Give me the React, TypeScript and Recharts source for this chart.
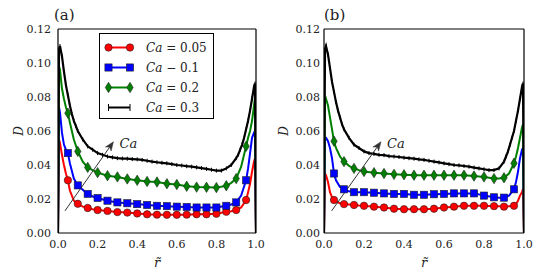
import React from 'react';
import { LineChart, Line, XAxis, YAxis, ReferenceLine } from 'recharts';

const FONT = 'DejaVu Serif';

const xTicks = [0, 0.2, 0.4, 0.6, 0.8, 1.0];
const yTicks = [0, 0.02, 0.04, 0.06, 0.08, 0.1, 0.12];
const caValues = ['0.05', '0.1', '0.2', '0.3'];
const caOps = ['=', '\u2212', '=', '='];
const colors = ['#ff0000', '#0000ff', '#008000', '#000000'];
const markerKinds = ['circle', 'square', 'diamond', 'vbar'];

// common r grid for the marked series
const rGrid = [0, 0.005, 0.01, 0.02, 0.03, 0.04, 0.05, 0.06, 0.08, 0.1, 0.125, 0.15, 0.175, 0.2, 0.25, 0.3, 0.35, 0.4, 0.45, 0.5, 0.55, 0.6, 0.65, 0.7, 0.75, 0.8, 0.85, 0.875, 0.9, 0.925, 0.95, 0.96, 0.97, 0.98, 0.99, 0.995, 1.0];

// panel (a)
const redA = [0, 0.055, 0.053, 0.046, 0.040, 0.035, 0.031, 0.025, 0.019, 0.0172, 0.0155, 0.0147, 0.014, 0.0135, 0.013, 0.0123, 0.012, 0.0115, 0.011, 0.0108, 0.0107, 0.0107, 0.0108, 0.011, 0.011, 0.0113, 0.0125, 0.0128, 0.0135, 0.015, 0.0194, 0.024, 0.029, 0.036, 0.042, 0.044, 0];
const blueA = [0, 0.074, 0.071, 0.059, 0.052, 0.049, 0.047, 0.041, 0.032, 0.028, 0.0255, 0.023, 0.0215, 0.0206, 0.019, 0.018, 0.0175, 0.017, 0.0165, 0.016, 0.0158, 0.0155, 0.0153, 0.015, 0.015, 0.015, 0.016, 0.0168, 0.018, 0.022, 0.031, 0.038, 0.047, 0.056, 0.059, 0.06, 0];
const greenA = [0, 0.098, 0.096, 0.085, 0.079, 0.074, 0.0705, 0.065, 0.055, 0.048, 0.042, 0.0386, 0.037, 0.0355, 0.0337, 0.033, 0.0318, 0.031, 0.0303, 0.030, 0.029, 0.0285, 0.0275, 0.027, 0.0269, 0.0267, 0.0278, 0.0295, 0.032, 0.039, 0.051, 0.056, 0.060, 0.066, 0.075, 0.080, 0];

// panel (b)
const redB = [0, 0.035, 0.034, 0.030, 0.024, 0.021, 0.0194, 0.0185, 0.0175, 0.017, 0.0168, 0.0165, 0.0162, 0.016, 0.0155, 0.015, 0.0143, 0.014, 0.014, 0.014, 0.0143, 0.015, 0.0155, 0.016, 0.016, 0.016, 0.0158, 0.0157, 0.0155, 0.0158, 0.016, 0.017, 0.019, 0.022, 0.024, 0.026, 0];
const blueB = [0, 0.056, 0.056, 0.054, 0.050, 0.044, 0.035, 0.031, 0.027, 0.0257, 0.0245, 0.024, 0.024, 0.024, 0.0237, 0.0233, 0.023, 0.023, 0.0225, 0.0225, 0.0228, 0.023, 0.0233, 0.0233, 0.0233, 0.022, 0.021, 0.0208, 0.0208, 0.022, 0.0257, 0.030, 0.036, 0.044, 0.049, 0.050, 0];
const greenB = [0, 0.077, 0.079, 0.075, 0.068, 0.061, 0.054, 0.050, 0.045, 0.042, 0.0395, 0.038, 0.037, 0.0362, 0.0355, 0.035, 0.0345, 0.0343, 0.034, 0.034, 0.034, 0.034, 0.034, 0.034, 0.0335, 0.033, 0.032, 0.032, 0.0325, 0.035, 0.041, 0.045, 0.050, 0.056, 0.062, 0.064, 0];

// denser r grid for the Ca = 0.3 curves
const rBlack = [0, 0.005, 0.01, 0.02, 0.03, 0.04, 0.05, 0.06, 0.07, 0.08, 0.09, 0.1, 0.125, 0.15, 0.175, 0.2, 0.225, 0.25, 0.275, 0.3, 0.325, 0.35, 0.375, 0.4, 0.425, 0.45, 0.475, 0.5, 0.525, 0.55, 0.575, 0.6, 0.625, 0.65, 0.675, 0.7, 0.725, 0.75, 0.775, 0.8, 0.825, 0.85, 0.875, 0.9, 0.91, 0.92, 0.93, 0.94, 0.95, 0.96, 0.97, 0.98, 0.99, 0.995, 1];
const blackA = [0, 0.108, 0.110, 0.104, 0.095, 0.087, 0.081, 0.075, 0.070, 0.066, 0.063, 0.060, 0.055, 0.051, 0.049, 0.047, 0.046, 0.045, 0.0445, 0.044, 0.0438, 0.0437, 0.0435, 0.0433, 0.043, 0.0425, 0.042, 0.0416, 0.0413, 0.041, 0.0405, 0.040, 0.0397, 0.0393, 0.039, 0.0386, 0.0382, 0.0377, 0.0372, 0.0367, 0.0367, 0.038, 0.040, 0.044, 0.046, 0.049, 0.052, 0.056, 0.061, 0.066, 0.072, 0.079, 0.086, 0.088, 0];
const blackB = [0, 0.108, 0.110, 0.105, 0.097, 0.089, 0.083, 0.077, 0.072, 0.068, 0.064, 0.061, 0.056, 0.052, 0.050, 0.048, 0.047, 0.0465, 0.046, 0.0458, 0.0452, 0.045, 0.0447, 0.0443, 0.044, 0.0437, 0.0433, 0.043, 0.0425, 0.042, 0.0415, 0.041, 0.0405, 0.040, 0.0398, 0.0394, 0.039, 0.0385, 0.038, 0.0375, 0.037, 0.037, 0.038, 0.042, 0.045, 0.048, 0.052, 0.056, 0.060, 0.066, 0.072, 0.079, 0.086, 0.088, 0];

// arrow (data coordinates: r, D)
const arrowA = [{ x: 0.035, y: 0.013 }, { x: 0.28, y: 0.0537 }];
const arrowB = [{ x: 0.038, y: 0.013 }, { x: 0.285, y: 0.0537 }];

const toRows = (rs: number[], ds: number[]) => rs.map((r, i) => ({ r, d: ds[i] }));

function MarkerShape({ kind, x, y, color }: { kind: string; x: number; y: number; color: string }) {
  if (kind === 'circle') return <circle cx={x} cy={y} r={3.7} fill={color} stroke="#222" strokeWidth={0.6} />;
  if (kind === 'square') return <rect x={x - 3.6} y={y - 3.6} width={7.2} height={7.2} fill={color} stroke="#222" strokeWidth={0.6} />;
  if (kind === 'diamond')
    return <polygon points={`${x},${y - 5.2} ${x + 3.2},${y} ${x},${y + 5.2} ${x - 3.2},${y}`} fill={color} stroke="#222" strokeWidth={0.6} />;
  return <line x1={x} y1={y - 3.5} x2={x} y2={y + 3.5} stroke={color} strokeWidth={1} />;
}

const makeDot = (kind: string, color: string) => (props: any) => {
  const { cx, cy, payload, index } = props;
  const key = `${kind}-${index}`;
  if (cx == null || cy == null || !payload) return <g key={key} />;
  const r = payload.r;
  let show: boolean;
  if (kind === 'vbar') {
    show = r > 0 && r < 1;
  } else {
    const s = Math.round(r * 20);
    show = Math.abs(r * 20 - s) < 1e-6 && s >= 1 && s <= 19;
  }
  if (!show) return <g key={key} />;
  if (kind === 'vbar') {
    return <line key={key} x1={cx} y1={cy - 2} x2={cx} y2={cy + 2} stroke={color} strokeWidth={1} />;
  }
  return (
    <g key={key}>
      <MarkerShape kind={kind} x={cx} y={cy} color={color} />
    </g>
  );
};

const NoTick = () => <g />;

const ArrowShape = (props: any) => {
  const { x1, y1, x2, y2 } = props;
  if ([x1, y1, x2, y2].some((v) => v == null || isNaN(v))) return <g />;
  const ang = Math.atan2(y2 - y1, x2 - x1);
  const L = 9;
  const W = 3.5;
  const bx = x2 - L * Math.cos(ang);
  const by = y2 - L * Math.sin(ang);
  const px = -Math.sin(ang) * W;
  const py = Math.cos(ang) * W;
  const nx = x2 - 6.5 * Math.cos(ang);
  const ny = y2 - 6.5 * Math.sin(ang);
  return (
    <g>
      <line x1={x1} y1={y1} x2={nx} y2={ny} stroke="#333" strokeWidth={1} />
      <polygon points={`${x2},${y2} ${bx + px},${by + py} ${nx},${ny} ${bx - px},${by - py}`} fill="#333" stroke="#333" strokeWidth={0.5} />
      <text x={x2 + 6} y={y2 + 1.5} fontFamily={FONT} fontStyle="italic" fontSize={13} fill="#222" dominantBaseline="central">
        Ca
      </text>
    </g>
  );
};

interface PanelProps {
  width: number;
  yAxisWidth: number;
  rightMargin: number;
  yTickMargin: number;
  yLabelDx: number;
  series: { rows: { r: number; d: number }[]; color: string; kind: string }[];
  arrow: { x: number; y: number }[];
}

const tickStyle = { fontFamily: FONT, fontSize: 11, fill: '#222' };

function Panel({ width, yAxisWidth, rightMargin, yTickMargin, yLabelDx, series, arrow }: PanelProps) {
  const yLabel = (p: any) => {
    const vb = p.viewBox || {};
    const cx = vb.x + yLabelDx;
    const cy = vb.y + vb.height / 2;
    return (
      <text x={cx} y={cy} transform={`rotate(-90 ${cx} ${cy})`} textAnchor="middle" dominantBaseline="central" fontFamily={FONT} fontStyle="italic" fontSize={12} fill="#222">
        D
      </text>
    );
  };
  const xLabel = (p: any) => {
    const vb = p.viewBox || {};
    const cx = vb.x + vb.width / 2;
    const cy = vb.y + 29;
    return (
      <text x={cx} y={cy} textAnchor="middle" dominantBaseline="central" fontFamily={FONT} fontStyle="italic" fontSize={13} fill="#222">
        {'r\u0303'}
      </text>
    );
  };
  const spine = { stroke: '#000', strokeWidth: 1.2 };
  const tl = { stroke: '#000', strokeWidth: 1 };
  return (
    <LineChart width={width} height={279} margin={{ top: 29, right: rightMargin, bottom: 0, left: 0 }}>
      <XAxis
        xAxisId="main"
        type="number"
        dataKey="r"
        domain={[0, 1]}
        ticks={xTicks}
        allowDataOverflow
        axisLine={false}
        tickLine={false}
        tickSize={0}
        tickMargin={7}
        height={46}
        tick={tickStyle}
        tickFormatter={(v: number) => v.toFixed(1)}
        label={xLabel}
      />
      <XAxis xAxisId="bm" type="number" dataKey="r" domain={[0, 1]} ticks={xTicks} orientation="bottom" mirror tickSize={4} tick={NoTick} axisLine={spine} tickLine={tl} />
      <XAxis xAxisId="tm" type="number" dataKey="r" domain={[0, 1]} ticks={xTicks} orientation="top" mirror tickSize={4} tick={NoTick} axisLine={spine} tickLine={tl} />
      <YAxis
        yAxisId="main"
        type="number"
        domain={[0, 0.12]}
        ticks={yTicks}
        allowDataOverflow
        axisLine={false}
        tickLine={false}
        tickSize={0}
        tickMargin={yTickMargin}
        width={yAxisWidth}
        tick={tickStyle}
        tickFormatter={(v: number) => v.toFixed(2)}
        label={yLabel}
      />
      <YAxis yAxisId="lm" type="number" domain={[0, 0.12]} ticks={yTicks} orientation="left" mirror tickSize={4} tick={NoTick} axisLine={spine} tickLine={tl} />
      <YAxis yAxisId="rm" type="number" domain={[0, 0.12]} ticks={yTicks} orientation="right" mirror tickSize={4} tick={NoTick} axisLine={spine} tickLine={tl} />
      {series.map((s, i) => (
        <Line
          key={i}
          xAxisId="main"
          yAxisId="main"
          data={s.rows}
          dataKey="d"
          type="linear"
          stroke={s.color}
          strokeWidth={s.kind === 'vbar' ? 2.2 : 2}
          dot={makeDot(s.kind, s.color)}
          activeDot={false}
          isAnimationActive={false}
        />
      ))}
      <ReferenceLine xAxisId="main" yAxisId="main" segment={arrow} shape={ArrowShape} ifOverflow="visible" />
    </LineChart>
  );
}

function LegendBox() {
  const rows = caValues.map((v, i) => ({ v, op: caOps[i], color: colors[i], kind: markerKinds[i] }));
  return (
    <div style={{ position: 'absolute', left: 99, top: 33, width: 113, height: 84, border: '1px solid #000', background: '#fff' }}>
      <svg width={113} height={84} style={{ display: 'block' }}>
        {rows.map((r, i) => {
          const y = 13.5 + i * 20;
          return (
            <g key={i}>
              <line x1={8} y1={y} x2={30} y2={y} stroke={r.color} strokeWidth={2} />
              <MarkerShape kind={r.kind} x={8.5} y={y} color={r.color} />
              <MarkerShape kind={r.kind} x={30} y={y} color={r.color} />
              <text x={46} y={y} dominantBaseline="central" fontFamily={FONT} fontSize={12} fill="#222">
                <tspan fontStyle="italic">Ca</tspan>
                <tspan>{` ${r.op} ${r.v}`}</tspan>
              </text>
            </g>
          );
        })}
      </svg>
    </div>
  );
}

export default function App() {
  const seriesA = [
    { rows: toRows(rGrid, redA), color: colors[0], kind: markerKinds[0] },
    { rows: toRows(rGrid, blueA), color: colors[1], kind: markerKinds[1] },
    { rows: toRows(rGrid, greenA), color: colors[2], kind: markerKinds[2] },
    { rows: toRows(rBlack, blackA), color: colors[3], kind: markerKinds[3] },
  ];
  const seriesB = [
    { rows: toRows(rGrid, redB), color: colors[0], kind: markerKinds[0] },
    { rows: toRows(rGrid, blueB), color: colors[1], kind: markerKinds[1] },
    { rows: toRows(rGrid, greenB), color: colors[2], kind: markerKinds[2] },
    { rows: toRows(rBlack, blackB), color: colors[3], kind: markerKinds[3] },
  ];
  return (
    <div style={{ position: 'absolute', left: 0, top: 0, width: 541, height: 279, background: '#fff', overflow: 'hidden' }}>
      <div style={{ position: 'absolute', left: 0, top: 0 }}>
        <Panel width={270} yAxisWidth={58} rightMargin={14} yTickMargin={7} yLabelDx={19} series={seriesA} arrow={arrowA} />
      </div>
      <div style={{ position: 'absolute', left: 270, top: 0 }}>
        <Panel width={271} yAxisWidth={54} rightMargin={17} yTickMargin={4} yLabelDx={14} series={seriesB} arrow={arrowB} />
      </div>
      <div style={{ position: 'absolute', left: 54, top: 5, fontFamily: FONT, fontSize: 15, color: '#222', lineHeight: '20px' }}>(a)</div>
      <div style={{ position: 'absolute', left: 324, top: 5, fontFamily: FONT, fontSize: 15, color: '#222', lineHeight: '20px' }}>(b)</div>
      <LegendBox />
    </div>
  );
}
